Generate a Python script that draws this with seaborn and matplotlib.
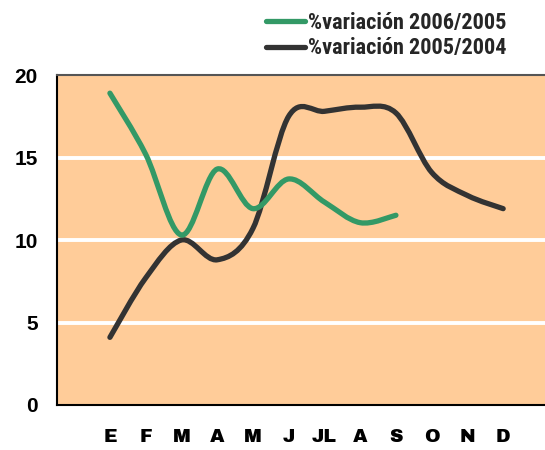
import numpy as np
import matplotlib
matplotlib.use('Agg')
import matplotlib.pyplot as plt
import seaborn as sns
from matplotlib.path import Path
from matplotlib.patches import PathPatch
from matplotlib.lines import Line2D

# Data
months = ['E', 'F', 'M', 'A', 'M', 'J', 'JL', 'A', 'S', 'O', 'N', 'D']
var_2006_2005 = [18.9, 15.2, 10.3, 14.3, 11.9, 13.7, 12.3, 11.05, 11.5]
var_2005_2004 = [4.1, 7.7, 10.0, 8.8, 10.7, 17.5, 17.8, 18.05, 17.7, 14.1, 12.7, 11.9]
labels = ['%variación 2006/2005', '%variación 2005/2004']
colors = ['#339966', '#333333']

sns.set_style('white')
plt.rcParams['font.family'] = ['Liberation Sans', 'DejaVu Sans']


def smooth_path(xs, ys):
    # Catmull-Rom style cubic Bezier through the data points (like Excel's smoothed line)
    pts = np.column_stack([xs, ys]).astype(float)
    n = len(pts)
    verts = [pts[0]]
    codes = [Path.MOVETO]
    for i in range(n - 1):
        p0 = pts[i - 1] if i > 0 else pts[i]
        p1 = pts[i]
        p2 = pts[i + 1]
        p3 = pts[i + 2] if i + 2 < n else pts[i + 1]
        verts += [p1 + (p2 - p0) / 6, p2 - (p3 - p1) / 6, p2]
        codes += [Path.CURVE4] * 3
    return Path(verts, codes)


fig = plt.figure(figsize=(5.45, 4.5), dpi=100)
ax = fig.add_axes([0.1046, 0.1, 0.8954, 0.7333])
ax.set_facecolor('#FFCC99')

series = [var_2006_2005, var_2005_2004]
for vals, col in zip(series[::-1], colors[::-1]):
    x = np.arange(len(vals))
    ax.add_patch(PathPatch(smooth_path(x, vals), facecolor='none', edgecolor=col,
                           lw=3.8, capstyle='round', joinstyle='round', zorder=3))

ax.set_xlim(-1.48, 12.17)
ax.set_ylim(0, 20)
ax.set_yticks([0, 5, 10, 15, 20])
ax.set_xticks(range(len(months)))
ax.set_xticklabels(months)
for y in [5, 10, 15]:
    ax.axhline(y, color='white', lw=2.8, zorder=1)

ax.tick_params(axis='y', length=0, pad=14, labelsize=15)
ax.tick_params(axis='x', length=0, pad=17, labelsize=13.5)
for t in ax.get_yticklabels():
    t.set_fontweight('bold')
    t.set_color('black')
for t in ax.get_xticklabels():
    t.set_family(['Archivo Black', 'Liberation Sans'])
    t.set_fontweight('bold')
    t.set_color('black')

ax.spines['right'].set_visible(False)
ax.spines['top'].set_color('#555555')
ax.spines['top'].set_linewidth(1.5)
ax.spines['left'].set_color('black')
ax.spines['left'].set_linewidth(1.5)
ax.spines['bottom'].set_color('black')
ax.spines['bottom'].set_linewidth(1.5)

handles = [Line2D([], [], color=c, lw=3.8, solid_capstyle='round') for c in colors]
leg = fig.legend(handles, labels, loc='upper right', bbox_to_anchor=(0.957, 1.008),
                 frameon=False, handlelength=1.75, handletextpad=0.12, labelspacing=0.15,
                 borderpad=0.2,
                 prop={'family': ['Roboto Condensed', 'Liberation Sans'],
                       'weight': 'bold', 'size': 16})

fig.savefig('out.png', dpi=100)
